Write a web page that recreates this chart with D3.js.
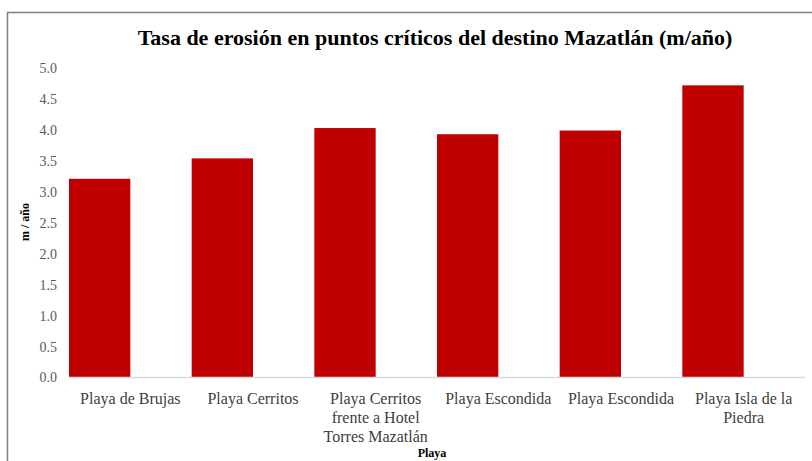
<!DOCTYPE html>
<html>
<head>
<meta charset="utf-8">
<script src="https://cdn.jsdelivr.net/npm/d3@7"></script>
<style>
  body { margin: 0; background: #fff; }
  text { font-family: "Liberation Serif", "DejaVu Serif", serif; }
</style>
</head>
<body>
<svg id="chart" width="812" height="461"></svg>
<script>
// chart data
var beaches = ["Playa de Brujas", "Playa Cerritos", "Playa Cerritos frente a Hotel Torres Mazatlán",
               "Playa Escondida", "Playa Escondida 2", "Playa Isla de la Piedra"];
var labelLines = [["Playa de Brujas"], ["Playa Cerritos"], ["Playa Cerritos", "frente a Hotel", "Torres Mazatlán"],
                  ["Playa Escondida"], ["Playa Escondida"], ["Playa Isla de la", "Piedra"]];
var rates = [3.21, 3.54, 4.03, 3.93, 3.99, 4.72];
var yTicks = [0, 0.5, 1, 1.5, 2, 2.5, 3, 3.5, 4, 4.5, 5];

var svg = d3.select("#chart");
var plotLeft = 69, plotRight = 805, plotTop = 68, plotBottom = 377.5;

// frame (top and left edges only, the rest is off the picture)
svg.append("path")
  .attr("d", "M7.5,461 V12.5 H812")
  .attr("fill", "none")
  .attr("stroke", "#7f7f7f")
  .attr("stroke-width", 1.5);

var x = d3.scaleBand().domain(beaches).range([plotLeft, plotRight]).padding(0);
var y = d3.scaleLinear().domain([0, 5]).range([plotBottom, plotTop]);

// title
svg.append("text")
  .attr("x", 435).attr("y", 45)
  .attr("text-anchor", "middle")
  .attr("font-size", 22).attr("font-weight", "bold")
  .attr("fill", "#000")
  .text("Tasa de erosión en puntos críticos del destino Mazatlán (m/año)");

// y axis labels
var yAxis = svg.append("g")
  .attr("transform", "translate(" + plotLeft + ",0)")
  .call(d3.axisLeft(y).tickValues(yTicks).tickFormat(d3.format(".1f")).tickSize(0).tickPadding(12));
yAxis.select(".domain").remove();
yAxis.selectAll("text")
  .attr("font-family", "Liberation Serif, serif")
  .attr("font-size", 14)
  .attr("fill", "#595959");

// bars: first half of each category slot
svg.append("g").selectAll("rect")
  .data(rates)
  .enter().append("rect")
  .attr("x", function(d, i) { return x(beaches[i]); })
  .attr("y", function(d) { return y(d); })
  .attr("width", x.bandwidth() / 2)
  .attr("height", function(d) { return plotBottom - y(d); })
  .attr("fill", "#c00000");

// baseline
svg.append("line")
  .attr("x1", plotLeft).attr("x2", plotRight)
  .attr("y1", plotBottom).attr("y2", plotBottom)
  .attr("stroke", "#d9d9d9").attr("stroke-width", 1.5);

// category labels
var cat = svg.append("g").selectAll("text")
  .data(beaches)
  .enter().append("text")
  .attr("text-anchor", "middle")
  .attr("font-size", 16)
  .attr("fill", "#404040");
cat.each(function(d, i) {
  var t = d3.select(this);
  labelLines[i].forEach(function(line, j) {
    t.append("tspan")
      .attr("x", x(d) + x.bandwidth() / 2)
      .attr("y", 404 + j * 19)
      .text(line);
  });
});

// axis titles
svg.append("text")
  .attr("x", 432).attr("y", 457)
  .attr("text-anchor", "middle")
  .attr("font-size", 12).attr("font-weight", "bold")
  .attr("fill", "#000")
  .text("Playa");

svg.append("text")
  .attr("transform", "translate(29,222) rotate(-90)")
  .attr("text-anchor", "middle")
  .attr("font-size", 12).attr("font-weight", "bold")
  .attr("fill", "#000")
  .text("m  /  año");
</script>
</body>
</html>
